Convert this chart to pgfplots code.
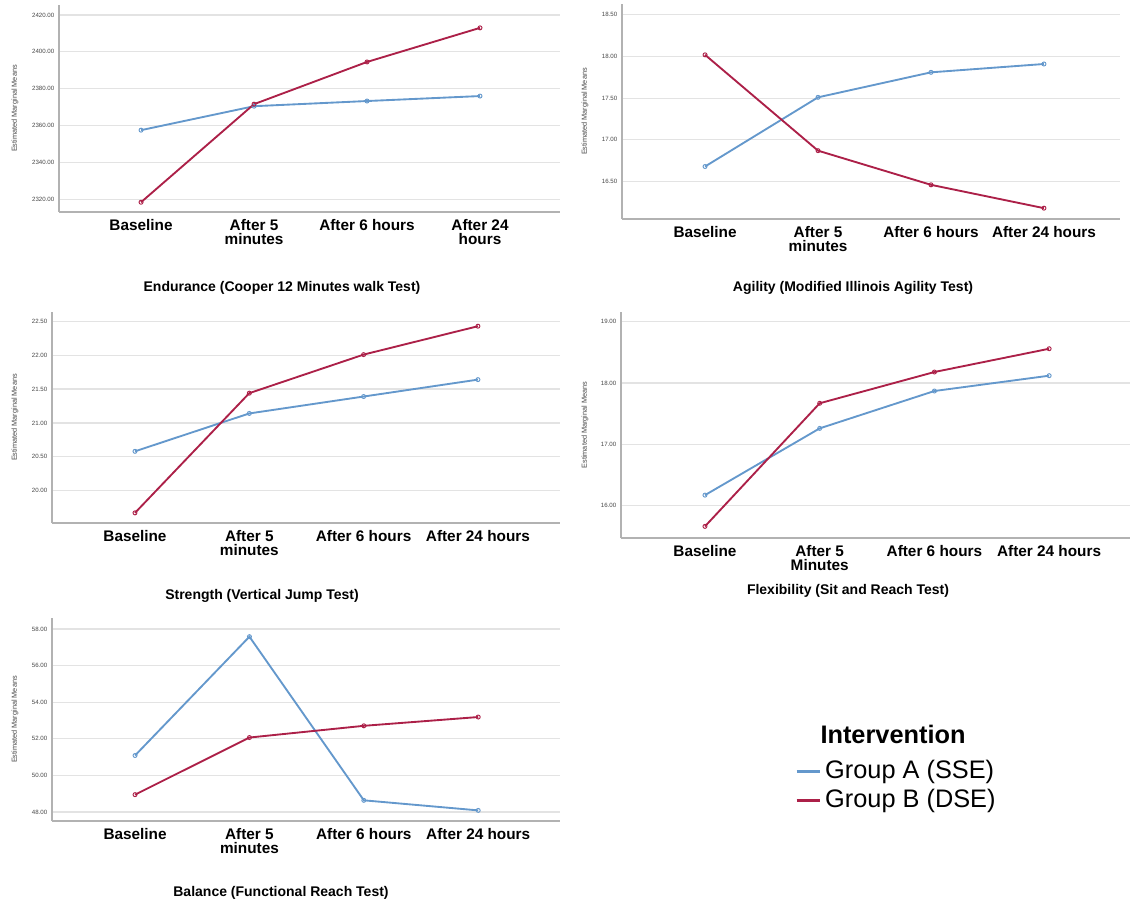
\documentclass[border=0pt]{standalone}
\usepackage{fontspec}
\setmainfont{Liberation Sans}
\usepackage{pgfplots}
\pgfplotsset{compat=1.18}
\definecolor{grpA}{RGB}{100,152,204}
\definecolor{grpB}{RGB}{172,32,72}
\pgfplotsset{
  panel/.style={
    scale only axis,
    anchor=south west,
    axis lines=left,
    axis line style={-, draw=gray!60, line width=0.9pt},
    xtick={0,1,2,3},
    ymajorgrids,
    grid style={gray!22, line width=0.9pt},
    major tick length=0pt,
    xticklabel style={font=\fontsize{11.5}{10.5}\selectfont\bfseries, align=center, yshift=-2pt},
    yticklabel style={font=\fontsize{4.6}{5}\selectfont, text=gray!55!black,
      /pgf/number format/fixed, /pgf/number format/fixed zerofill,
      /pgf/number format/precision=2, /pgf/number format/1000 sep={}},
    /pgf/number format/assume math mode=true,
    ylabel={Estimated Marginal Means},
    every axis plot/.append style={line width=1.4pt, mark=o, mark size=1.5pt, mark options={line width=0.7pt}},
    clip=false,
  },
  ylabpos/.style={every axis y label/.style={at={([xshift=-#1]axis description cs:0,0.5)}, rotate=90, anchor=center,
    font=\fontsize{5.5}{6}\selectfont, text=gray!55!black}},
}
\begin{document}
\begin{tikzpicture}
\useasboundingbox (0,0) rectangle (848.25pt,-678.75pt);
% Panel 1: Endurance
\begin{axis}[panel, ylabpos=33pt,
  at={(44.25pt,-159pt)}, width=375.75pt, height=155.25pt,
  xmin=-0.726, xmax=3.708, ymin=2313.1, ymax=2425.4,
  ytick={2320,2340,2360,2380,2400,2420},
  xticklabels={Baseline,{After 5\\minutes},After 6 hours,{After 24\\hours}}]
\addplot[grpA] coordinates {(0,2357.5) (1,2370.5) (2,2373.3) (3,2376.0)};
\addplot[grpB] coordinates {(0,2318.4) (1,2371.6) (2,2394.5) (3,2413.0)};
\end{axis}
% Panel 2: Agility
\begin{axis}[panel, ylabpos=27.75pt,
  at={(466.5pt,-164.25pt)}, width=373.5pt, height=161.25pt,
  xmin=-0.735, xmax=3.673, ymin=16.05, ymax=18.63,
  ytick={16.5,17,17.5,18,18.5},
  xticklabels={Baseline,{After 5\\minutes},After 6 hours,After 24 hours}]
\addplot[grpA] coordinates {(0,16.68) (1,17.51) (2,17.81) (3,17.91)};
\addplot[grpB] coordinates {(0,18.02) (1,16.87) (2,16.46) (3,16.18)};
\end{axis}
% Panel 3: Strength
\begin{axis}[panel, ylabpos=27.75pt,
  at={(39pt,-392.25pt)}, width=381pt, height=158.25pt,
  xmin=-0.726, xmax=3.718, ymin=19.52, ymax=22.64,
  ytick={20,20.5,21,21.5,22,22.5},
  xticklabels={Baseline,{After 5\\minutes},After 6 hours,After 24 hours}]
\addplot[grpA] coordinates {(0,20.58) (1,21.14) (2,21.39) (3,21.64)};
\addplot[grpB] coordinates {(0,19.67) (1,21.44) (2,22.01) (3,22.43)};
\end{axis}
% Panel 4: Flexibility
\begin{axis}[panel, ylabpos=27pt,
  at={(465.75pt,-403.5pt)}, width=381.75pt, height=169.5pt,
  xmin=-0.732, xmax=3.705, ymin=15.47, ymax=19.16,
  ytick={16,17,18,19},
  xticklabels={Baseline,{After 5\\Minutes},After 6 hours,After 24 hours}]
\addplot[grpA] coordinates {(0,16.17) (1,17.26) (2,17.87) (3,18.12)};
\addplot[grpB] coordinates {(0,15.66) (1,17.67) (2,18.18) (3,18.56)};
\end{axis}
% Panel 5: Balance
\begin{axis}[panel, ylabpos=27.75pt,
  at={(39pt,-615.75pt)}, width=381pt, height=152.25pt,
  xmin=-0.726, xmax=3.715, ymin=47.51, ymax=58.6,
  ytick={48,50,52,54,56,58},
  xticklabels={Baseline,{After 5\\minutes},After 6 hours,After 24 hours},
  legend style={at={(1.4626,0.3177)}, anchor=north west, draw=none, fill=none,
    font=\fontsize{19}{22}\selectfont, inner sep=0pt, row sep=0pt, column sep=3pt,
    nodes={inner xsep=0pt, inner ysep=0pt, text height=16.5pt, text depth=5.25pt}},
  legend cell align=left,
  legend image code/.code={\draw[#1, line width=2.2pt] (0pt,0pt) -- (17.25pt,0pt);}]
\addplot[grpA] coordinates {(0,51.09) (1,57.58) (2,48.64) (3,48.09)};
\addplot[grpB] coordinates {(0,48.95) (1,52.07) (2,52.71) (3,53.19)};
\addlegendentry{Group A (SSE)}
\addlegendentry{Group B (DSE)}
\end{axis}
% titles
\node[font=\fontsize{10.5}{12}\selectfont\bfseries] at (211.5pt,-216pt) {Endurance (Cooper 12 Minutes walk Test)};
\node[font=\fontsize{10.5}{12}\selectfont\bfseries] at (639.75pt,-216pt) {Agility (Modified Illinois Agility Test)};
\node[font=\fontsize{10.5}{12}\selectfont\bfseries] at (196.5pt,-447pt) {Strength (Vertical Jump Test)};
\node[font=\fontsize{10.5}{12}\selectfont\bfseries] at (636pt,-443.25pt) {Flexibility (Sit and Reach Test)};
\node[font=\fontsize{10.5}{12}\selectfont\bfseries] at (210.75pt,-669.75pt) {Balance (Functional Reach Test)};
\node[font=\fontsize{19}{22}\selectfont\bfseries] at (669.75pt,-550.5pt) {Intervention};
\end{tikzpicture}
\end{document}
